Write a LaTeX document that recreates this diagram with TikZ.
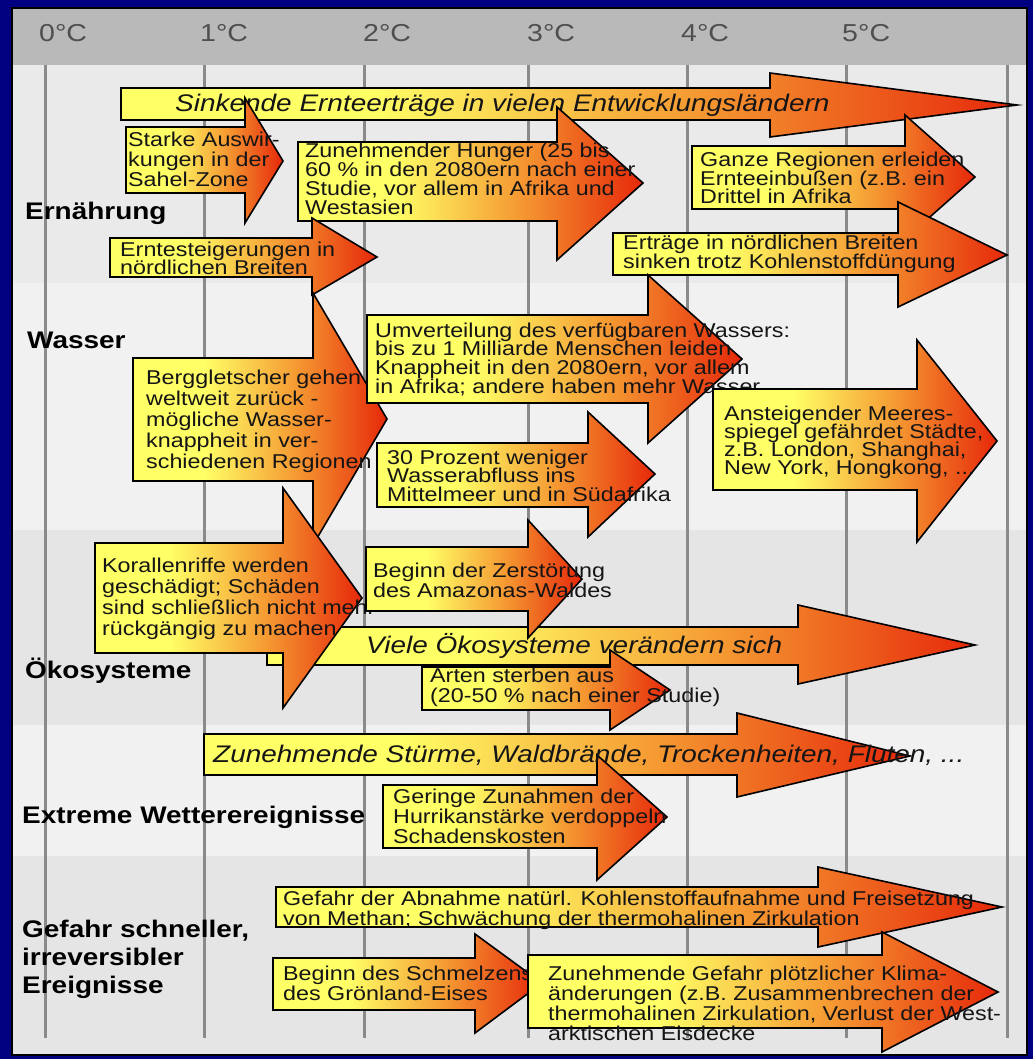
\documentclass[tikz,border=0pt]{standalone}
\usepackage{fontspec}
\setmainfont{Liberation Sans}
\usepackage{graphicx}
\definecolor{navyb}{HTML}{000080}
\definecolor{hdr}{HTML}{B9B9B9}
\definecolor{bgA}{HTML}{EAEAEA}
\definecolor{bgB}{HTML}{F1F1F1}
\definecolor{bgC}{HTML}{E5E5E5}
\definecolor{vline}{HTML}{8A8A8A}
\definecolor{hdtxt}{HTML}{4F4F4F}
\definecolor{txtcol}{HTML}{151515}
\definecolor{ayel}{HTML}{FFFF66}
\definecolor{aora}{HTML}{F59A32}
\definecolor{ared}{HTML}{E6280A}
\pgfdeclarehorizontalshading{arrshade}{100bp}{color(0bp)=(ayel); color(25bp)=(ayel); color(39bp)=(ayel); color(57bp)=(aora); color(75bp)=(ared); color(100bp)=(ared)}
\newcommand{\mt}[2]{\scalebox{1.165}[1]{\vtop{\lineskiplimit=-60pt\baselineskip=#1pt\relax\let\\\cr\halign{##\hfil\cr#2\crcr}}}}
\newcommand{\st}[1]{\scalebox{1.165}[1]{#1}}
\newcommand{\barr}[8]{\draw[arr] (#1,#2) -- (#4,#2) -- (#4,#5) -- (#7,#8) -- (#4,#6) -- (#4,#3) -- (#1,#3) -- cycle;}
\begin{document}
\begin{tikzpicture}[x=1pt,y=-1pt,
  arr/.style={shading=arrshade, draw=black, line width=1.6pt, line join=miter},
  txt/.style={anchor=base west, inner sep=0pt, font=\fontsize{20}{19}\selectfont, text=txtcol},
  itx/.style={anchor=base west, inner sep=0pt, font=\fontsize{24}{26}\selectfont\itshape, text=txtcol},
  lab/.style={anchor=base west, inner sep=0pt, font=\fontsize{24}{28}\selectfont\bfseries, text=black},
  hd/.style={anchor=base west, inner sep=0pt, font=\fontsize{24.5}{28}\selectfont, text=hdtxt},
  vl/.style={draw=vline, line width=3pt}]
\useasboundingbox (0,0) rectangle (1033,1059);
\fill[navyb] (0,0) rectangle (1033,1059);
\begin{scope}
\clip (12,8) rectangle (1027,1055);
% bands
\fill[hdr] (12,8) rectangle (1027,65);
\fill[bgA] (12,65) rectangle (1027,283);
\fill[bgB] (12,283) rectangle (1027,530);
\fill[bgC] (12,530) rectangle (1027,725);
\fill[bgB] (12,725) rectangle (1027,856);
\fill[bgC] (12,856) rectangle (1027,1055);
% vertical lines
\foreach \x in {45,204,364,528,687,846,1007} \draw[vl] (\x,65) -- (\x,1038);
% header
\node[hd] (h0) at (39,42) {\st{0°C}};
\node[hd] (h1) at (200,42) {\st{1°C}};
\node[hd] (h2) at (363,42) {\st{2°C}};
\node[hd] (h3) at (527,42) {\st{3°C}};
\node[hd] (h4) at (681,42) {\st{4°C}};
\node[hd] (h5) at (842,42) {\st{5°C}};
% category labels
\node[lab] (l1) at (25,220) {\st{Ernährung}};
\node[lab] (l2) at (27,348) {\st{Wasser}};
\node[lab] (l3) at (25,678) {\st{Ökosysteme}};
\node[lab] (l4) at (22,823) {\st{Extreme Wetterereignisse}};
\node[lab] (l5) at (22,937) {\mt{28}{Gefahr schneller,\\irreversibler\\Ereignisse}};
% Ernaehrung
\barr{121}{88}{120}{770}{73}{137}{1017}{105}
\node[itx] (t1) at (175,112) {\st{Sinkende Ernteerträge in vielen Entwicklungsländern}};
\barr{126}{127}{193}{245}{98}{223}{283}{161}
\node[txt] (t2) at (128,147) {\mt{20}{Starke Auswir-\\kungen in der\\Sahel-Zone}};
\barr{298}{142}{221}{557}{107}{260}{643}{183}
\node[txt] (t3) at (305,158) {\mt{19}{Zunehmender Hunger (25 bis\\60 \% in den 2080ern nach einer\\Studie, vor allem in Afrika und\\Westasien}};
\barr{110}{238}{277}{312}{218}{295}{377}{257}
\node[txt] (t4) at (120,256) {\mt{18.5}{Erntesteigerungen in\\nördlichen Breiten}};
\barr{692}{146}{209}{905}{115}{239}{975}{177}
\node[txt] (t5) at (700,167) {\mt{18.3}{Ganze Regionen erleiden\\Ernteeinbußen (z.B. ein\\Drittel in Afrika}};
\barr{613}{233}{275}{898}{202}{307}{1007}{255}
\node[txt] (t6) at (623,250) {\mt{18.7}{Erträge in nördlichen Breiten\\sinken trotz Kohlenstoffdüngung}};
% Wasser
\barr{133}{358}{481}{313}{293}{545}{387}{419}
\node[txt] (t7) at (146,384) {\mt{21}{Berggletscher gehen\\weltweit zurück -\\mögliche Wasser-\\knappheit in ver-\\schiedenen Regionen}};
\barr{367}{315}{403}{648}{275}{443}{742}{359}
\node[txt] (t8) at (375,337) {\mt{18.7}{Umverteilung des verfügbaren Wassers:\\bis zu 1 Milliarde Menschen leiden\\Knappheit in den 2080ern, vor allem\\in Afrika; andere haben mehr Wasser}};
\barr{377}{443}{507}{588}{412}{537}{655}{474}
\node[txt] (t9) at (387,464) {\mt{18.5}{30 Prozent weniger\\Wasserabfluss ins\\Mittelmeer und in Südafrika}};
\barr{713}{389}{490}{917}{340}{542}{997}{441}
\node[txt] (t10) at (724,420) {\mt{18.3}{Ansteigender Meeres-\\spiegel gefährdet Städte,\\z.B. London, Shanghai,\\New York, Hongkong, ...}};
% Oekosysteme
\barr{267}{627}{665}{798}{605}{684}{975}{645}
\barr{95}{543}{653}{283}{488}{708}{362}{598}
\node[txt] (t11) at (102,572) {\mt{21}{Korallenriffe werden\\geschädigt; Schäden\\sind schließlich nicht mehr\\rückgängig zu machen}};
\barr{366}{547}{611}{528}{520}{638}{582}{579}
\node[txt] (t12) at (373,577) {\mt{20}{Beginn der Zerstörung\\des Amazonas-Waldes}};
\barr{422}{667}{710}{610}{650}{730}{670}{690}
\node[txt] (t14) at (430,682) {\mt{20}{Arten sterben aus\\(20-50 \% nach einer Studie)}};
\node[itx] (t13) at (366,653) {\st{Viele Ökosysteme verändern sich}};
% Extreme
\barr{204}{734}{775}{737}{713}{797}{910}{756}
\barr{383}{785}{848}{597}{755}{880}{667}{817}
\node[txt] (t16) at (393,803) {\mt{20}{Geringe Zunahmen der\\Hurrikanstärke verdoppeln\\Schadenskosten}};
\node[itx] (t15) at (213,762) {\st{Zunehmende Stürme, Waldbrände, Trockenheiten, Fluten, ...}};
% Gefahr
\barr{276}{887}{927}{818}{867}{947}{1002}{907}
\node[txt] (t17) at (283,905) {\mt{20}{Gefahr der Abnahme natürl. Kohlenstoffaufnahme und Freisetzung\\von Methan; Schwächung der thermohalinen Zirkulation}};
\barr{273}{958}{1010}{475}{934}{1033}{542}{983}
\node[txt] (t18) at (283,980) {\mt{20}{Beginn des Schmelzens\\des Grönland-Eises}};
\barr{528}{955}{1028}{882}{932}{1052}{998}{992}
\node[txt] (t19) at (548,980) {\mt{20}{Zunehmende Gefahr plötzlicher Klima-\\änderungen (z.B. Zusammenbrechen der\\thermohalinen Zirkulation, Verlust der West-\\arktischen Eisdecke}};
\end{scope}
\draw[black, line width=2.5pt] (12,8) rectangle (1027,1055);
\end{tikzpicture}
\end{document}
